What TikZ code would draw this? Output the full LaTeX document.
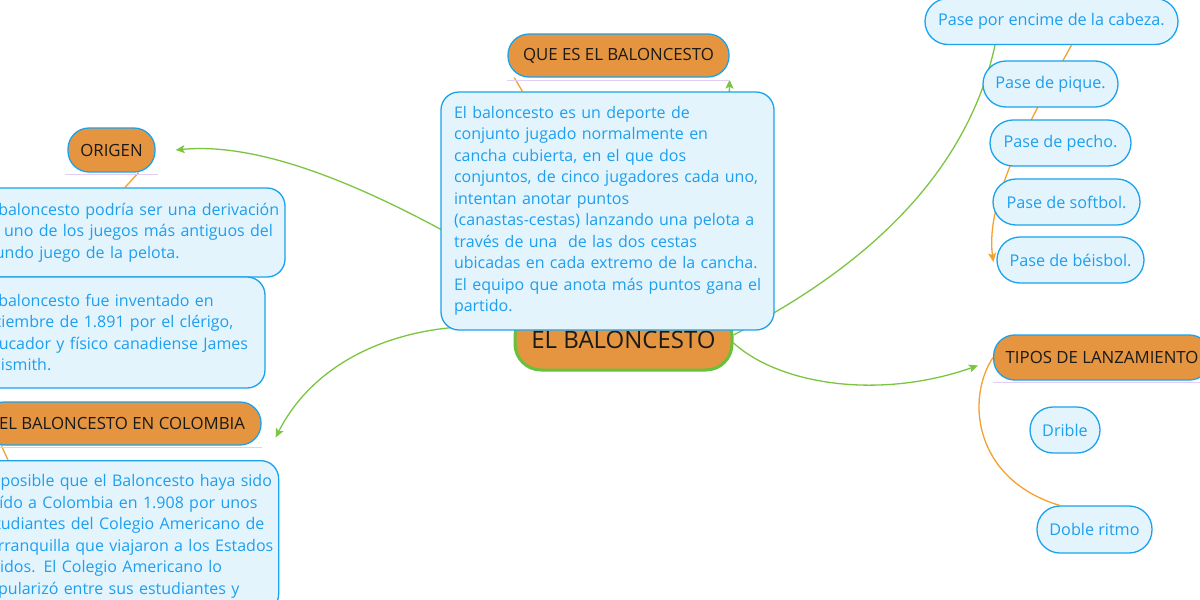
\documentclass[tikz,border=0pt]{standalone}
\usepackage{fontspec}
\setmainfont{Open Sans}
\usetikzlibrary{arrows.meta}
\pgfdeclarelayer{bg}
\pgfsetlayers{bg,main}
\hfuzz=100pt
\newcommand\lnbox[1]{\mbox{#1}}
\definecolor{orF}{HTML}{E5943F}
\definecolor{blB}{HTML}{1AA3EC}
\definecolor{ltB}{HTML}{E4F4FD}
\definecolor{blT}{HTML}{1E9FEE}
\definecolor{grL}{HTML}{7CC540}
\definecolor{orL}{HTML}{F6A02D}
\definecolor{puL}{HTML}{E3CDF2}
\definecolor{grB}{HTML}{66C23A}
\definecolor{txK}{HTML}{1A1A1A}
\tikzset{
  x=1pt,y=-1pt,
  lbl/.style={rectangle,rounded corners=21pt,fill=orF,draw=blB,line width=1.3pt,text=txK,
    font=\fontsize{16.8}{18}\selectfont,inner xsep=0pt,inner ysep=0pt},
  txtbox/.style={rectangle,rounded corners=18pt,fill=ltB,draw=blB,line width=1.3pt,text=blT,
    align=left,inner xsep=13pt,inner ysep=0pt,font=\fontsize{16}{21.5}\selectfont},
  pill/.style={rectangle,rounded corners=23pt,fill=ltB,draw=blB,line width=1.3pt,text=blT,
    font=\fontsize{16.2}{18}\selectfont,inner xsep=0pt,inner ysep=0pt,minimum height=46pt},
  mainnode/.style={rectangle,rounded corners=26pt,fill=orF,draw=grB,line width=3pt,text=txK,
    font=\fontsize{24}{28}\selectfont,inner sep=0pt},
  garrow/.style={draw=grL,line width=1.3pt,-{Stealth[length=9pt,width=8pt,inset=2pt]}},
  gline/.style={draw=grL,line width=1.3pt},
  oline/.style={draw=orL,line width=1.3pt},
  oarrow/.style={draw=orL,line width=1.3pt,-{Stealth[length=9pt,width=8pt,inset=2pt]}},
  ul/.style={draw=puL,line width=1pt}
}
\begin{document}
\begin{tikzpicture}
\useasboundingbox (0,0) rectangle (1200,600);
\clip (0,0) rectangle (1200,600);
\begin{pgfonlayer}{bg}
\fill[white] (0,0) rectangle (1200,600);
\end{pgfonlayer}
% nodes
\node[mainnode,minimum width=217pt,minimum height=60pt] (center) at (623.5,340) {EL BALONCESTO};
\node[lbl,minimum width=221pt,minimum height=43pt] (queEs) at (618.5,55.5) {QUE ES EL BALONCESTO};
\node[txtbox,text width=307pt,minimum height=238pt] (queText) at (607.5,211) {\lnbox{El baloncesto es un deporte de}\\
\lnbox{conjunto jugado normalmente en}\\
\lnbox{cancha cubierta, en el que dos}\\
\lnbox{conjuntos, de cinco jugadores cada uno,}\\
\lnbox{intentan anotar puntos}\\
\lnbox{(canastas-cestas) lanzando una pelota a}\\
\lnbox{través de una\ \ de las dos cestas}\\
\lnbox{ubicadas en cada extremo de la cancha.}\\
\lnbox{El equipo que anota más puntos gana el}\\
\lnbox{partido.}};
\node[lbl,minimum width=87pt,minimum height=44pt] (origen) at (111.5,150) {ORIGEN};
\node[txtbox,text width=292pt,minimum height=89pt] (origText1) at (126,232.5) {\lnbox{El baloncesto podría ser una derivación}\\
\lnbox{de uno de los juegos más antiguos del}\\
\lnbox{mundo juego de la pelota.}};
\node[txtbox,text width=272pt,minimum height=111pt] (origText2) at (116,332.5) {\lnbox{El baloncesto fue inventado en}\\
\lnbox{diciembre de 1.891 por el clérigo,}\\
\lnbox{educador y físico canadiense James}\\
\lnbox{Naismith.}};
\node[lbl,minimum width=278pt,minimum height=43pt] (colombia) at (122,423.5) {EL BALONCESTO EN COLOMBIA};
\node[txtbox,text width=287pt,anchor=north west,inner ysep=14pt] (colText) at (-35,460) {\lnbox{Es posible que el Baloncesto haya sido}\\
\lnbox{traído a Colombia en 1.908 por unos}\\
\lnbox{estudiantes del Colegio Americano de}\\
\lnbox{Barranquilla que viajaron a los Estados}\\
\lnbox{Unidos. El Colegio Americano lo}\\
\lnbox{popularizó entre sus estudiantes y}};
\node[lbl,anchor=west,inner xsep=12pt,minimum height=45pt] (tipos) at (993,357.5) {TIPOS DE LANZAMIENTO};
\node[pill,minimum width=253pt] (paseEnc) at (1051.5,21.5) {Pase por encime de la cabeza.};
\node[pill,minimum width=135pt] (pique) at (1050.5,84) {Pase de pique.};
\node[pill,minimum width=141pt] (pecho) at (1060.5,143) {Pase de pecho.};
\node[pill,minimum width=147pt] (softbol) at (1066.5,202) {Pase de softbol.};
\node[pill,minimum width=147pt] (beisbol) at (1070.5,260) {Pase de béisbol.};
\node[pill,minimum width=70pt] (drible) at (1065,430) {Drible};
\node[pill,minimum width=115pt,minimum height=47pt] (doble) at (1094.5,529.5) {Doble ritmo};
\coordinate (topend) at (1003,-30);
% connectors (below nodes)
\begin{pgfonlayer}{bg}
\draw[garrow] (center) .. controls (420,210) and (280,140) .. ([xshift=20pt]origen.east);
\draw[garrow] (center) .. controls (420,318) and (320,350) .. ([xshift=14pt,yshift=-14pt]colombia.east);
\draw[garrow] (center) .. controls (700,250) and (728,150) .. ([yshift=-2pt]queEs.south east);
\draw[gline] ([yshift=5pt]center.east) .. controls (860,270) and (1003,160) .. (topend);
\draw[garrow] ([yshift=-3pt]center.east) .. controls (780,385) and (880,400) .. ([xshift=-15pt,yshift=-8pt]tipos.west);
\draw[oline] ([xshift=27pt]origen.south) -- ([xshift=-1pt]origText1.north);
\draw[oline] ([xshift=19pt]colombia.south west) -- ([xshift=43pt]colText.north west);
\draw[oline] ([xshift=7pt]queEs.south west) -- ([xshift=82pt]queText.north west);
\draw[oarrow] ([xshift=20pt]paseEnc.south) .. controls (1030,120) and (985,200) .. ([xshift=-3pt,yshift=-2pt]beisbol.west);
\draw[oline] (tipos.west) .. controls (965,400) and (975,480) .. ([xshift=-35pt]doble.north);
\draw[ul] ([yshift=-3pt]queEs.south west) -- ([yshift=-3pt]queEs.south east);
\draw[ul] ([xshift=-2pt,yshift=-2pt]origen.south west) -- ([xshift=2pt,yshift=-2pt]origen.south east);
\draw[ul] ([yshift=-2pt]colombia.south west) -- ([yshift=-2pt]colombia.south east);
\draw[ul] ([yshift=-2pt]tipos.south west) -- ([yshift=-2pt]tipos.south east);
\end{pgfonlayer}
\end{tikzpicture}
\end{document}
